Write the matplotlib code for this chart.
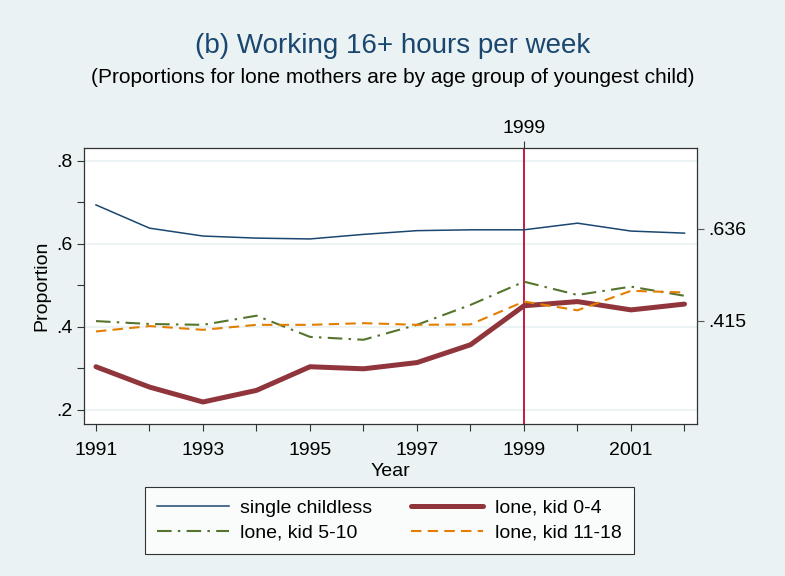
import matplotlib
matplotlib.use("Agg")
import matplotlib.pyplot as plt
from matplotlib.ticker import FixedLocator, FuncFormatter

plt.rcParams['font.family'] = ['Liberation Sans', 'DejaVu Sans']

years = [1991, 1992, 1993, 1994, 1995, 1996, 1997, 1998, 1999, 2000, 2001, 2002]
single_childless = [0.694, 0.638, 0.619, 0.614, 0.612, 0.623, 0.632, 0.634, 0.634, 0.650, 0.631, 0.626]
lone_kid_0_4 = [0.304, 0.255, 0.219, 0.247, 0.304, 0.299, 0.314, 0.357, 0.451, 0.461, 0.441, 0.455]
lone_kid_5_10 = [0.414, 0.407, 0.405, 0.427, 0.376, 0.369, 0.405, 0.453, 0.509, 0.477, 0.497, 0.475]
lone_kid_11_18 = [0.389, 0.402, 0.393, 0.405, 0.405, 0.409, 0.405, 0.406, 0.461, 0.440, 0.487, 0.483]
right_ticks = [0.636, 0.415]
right_labels = ['.636', '.415']
policy_year = 1999

bg = '#EAF2F3'
fig = plt.figure(figsize=(7.85, 5.76), dpi=100, facecolor=bg)
ax = fig.add_axes([0.107, 0.2639, 0.7805, 0.4783])
ax.set_facecolor('white')

h1, = ax.plot(years, single_childless, color='#1A476F', lw=1.1, label='single childless')
h2, = ax.plot(years, lone_kid_0_4, color='#90353B', lw=3.6, label='lone, kid 0-4', solid_capstyle='round')
h3, = ax.plot(years, lone_kid_5_10, color='#55752F', lw=1.5, dashes=[7, 3, 1.2, 3], label='lone, kid 5-10')
h4, = ax.plot(years, lone_kid_11_18, color='#E37E00', lw=1.5, dashes=[5, 3], label='lone, kid 11-18')
ax.axvline(policy_year, color='#C10534', lw=1.3, zorder=1)

ax.set_xlim(1990.776, 2002.228)
ax.set_ylim(0.166, 0.830)

ax.yaxis.set_major_locator(FixedLocator([0.2, 0.4, 0.6, 0.8]))
ax.yaxis.set_minor_locator(FixedLocator([0.3, 0.5, 0.7]))
ax.yaxis.set_major_formatter(FuncFormatter(lambda v, p: ('%.1f' % v).lstrip('0')))
ax.xaxis.set_major_locator(FixedLocator([1991, 1993, 1995, 1997, 1999, 2001]))
ax.xaxis.set_minor_locator(FixedLocator([1992, 1994, 1996, 1998, 2000, 2002]))
ax.grid(axis='y', which='major', color='#EAF2F3', lw=1.3)
ax.set_axisbelow(True)
ax.tick_params(which='both', direction='out', length=5, width=0.8, color='#333333', labelsize=14)
ax.tick_params(axis='x', pad=8)
for s in ax.spines.values():
    s.set_color('#333333')
    s.set_linewidth(0.9)

ax.set_ylabel('Proportion', fontsize=14, labelpad=4)
ax.set_xlabel('Year', fontsize=14, labelpad=3)

ax2 = ax.twinx()
ax2.set_ylim(ax.get_ylim())
ax2.set_yticks(right_ticks)
ax2.set_yticklabels(right_labels)
ax2.tick_params(direction='out', length=5, width=0.8, color='#555555', labelsize=14)
for s in ax2.spines.values():
    s.set_visible(False)

ax3 = ax.twiny()
ax3.set_xlim(ax.get_xlim())
ax3.set_xticks([policy_year])
ax3.set_xticklabels([str(policy_year)])
ax3.tick_params(direction='out', length=5, width=0.8, color='#333333', labelsize=14, pad=3)
for s in ax3.spines.values():
    s.set_visible(False)

fig.text(0.5, 0.920, '(b) Working 16+ hours per week', ha='center', va='center',
         fontsize=20, color='#1A476F')
fig.text(0.5, 0.866, '(Proportions for lone mothers are by age group of youngest child)',
         ha='center', va='center', fontsize=15, color='black')

leg = fig.legend([h1, h3, h2, h4],
                 ['single childless', 'lone, kid 5-10', 'lone, kid 0-4', 'lone, kid 11-18'],
                 loc='center', bbox_to_anchor=(0.496, 0.0964), ncol=2, frameon=True,
                 fontsize=14, handlelength=3.7, fancybox=False, edgecolor='black',
                 columnspacing=2.0, handletextpad=0.6, borderpad=0.6, labelspacing=0.4)
leg.get_frame().set_linewidth(0.8)

fig.savefig('out.png', dpi=100, facecolor=bg)
